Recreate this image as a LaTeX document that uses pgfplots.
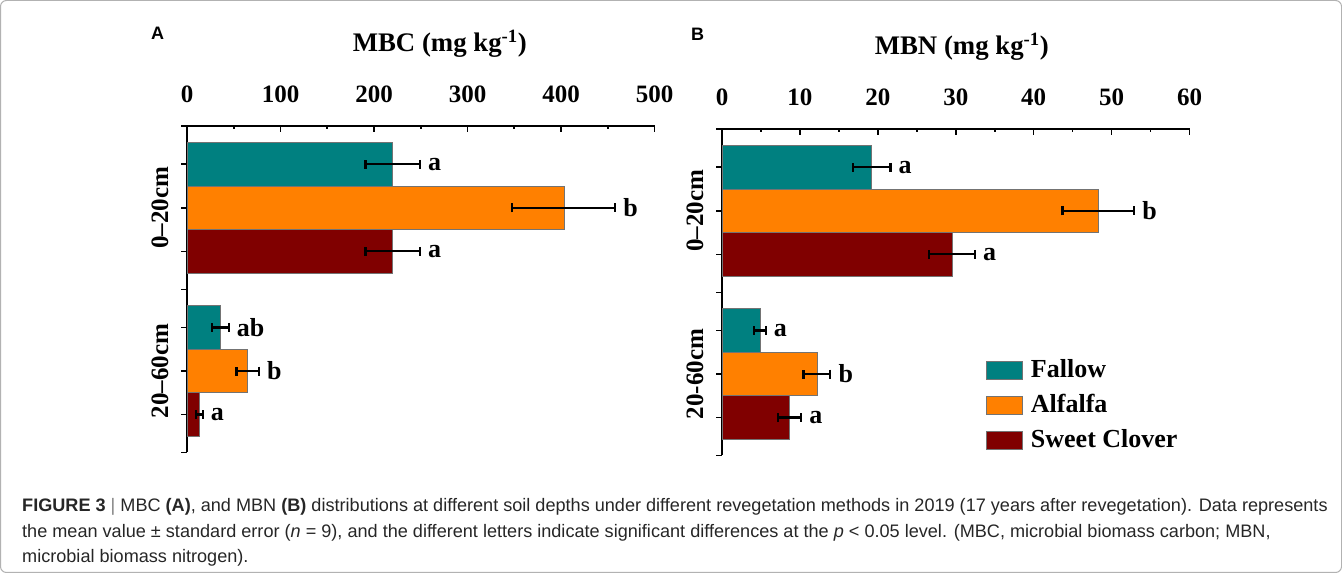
\documentclass[border=0pt]{standalone}
\usepackage{fontspec}
\setmainfont{Liberation Serif}
\newfontfamily\capfont{Liberation Sans}
\usepackage{graphicx}
\usepackage{pgfplots}
\pgfplotsset{compat=1.18}
\usepackage{pgfplotstable}

\definecolor{fallow}{HTML}{008080}
\definecolor{alfalfa}{HTML}{FF8000}
\definecolor{sclover}{HTML}{800000}

% y positions (axis units = bar heights), value, error, letter
\pgfplotstableread{
y v e lab
0.886 220 29 a
4.633 35.5 9 ab
}\AFallow
\pgfplotstableread{
y v e lab
1.886 403 55 b
5.633 65 12 b
}\AAlfalfa
\pgfplotstableread{
y v e lab
2.886 220 29 a
6.633 13.3 3.5 a
}\AClover
\pgfplotstableread{
y v e lab
0.886 19.2 2.43 a
4.633 4.87 0.73 a
}\BFallow
\pgfplotstableread{
y v e lab
1.886 48.3 4.6 b
5.633 12.18 1.72 b
}\BAlfalfa
\pgfplotstableread{
y v e lab
2.886 29.5 2.95 a
6.633 8.68 1.48 a
}\BClover

\pgfplotsset{
  every error bar/.append style={line width=2.2pt, draw=black},
  panel/.style={
    scale only axis, width=467.5pt, height=326.6pt,
    anchor=south west,
    xmin=0, ymin=0, ymax=7.5, y dir=reverse,
    axis x line*=top, axis y line*=left,
    axis line style={line width=1.6pt},
    xtick align=inside, ytick align=outside,
    major tick length=6pt, minor tick length=3.5pt,
    every tick/.style={black, line width=1.6pt},
    minor x tick num=1,
    ytick={0,0.886,1.886,2.886,3.76,4.633,5.633,6.633,7.5},
    yticklabels={},
    extra y ticks={1.886,5.633},
    extra y tick style={yticklabel style={rotate=90, anchor=south, yshift=9pt}},
    ticklabel style={font=\bfseries\fontsize{25}{25}\selectfont},
    /pgf/number format/assume math mode=true,
    xticklabel style={yshift=19pt},
    title style={font=\bfseries\fontsize{26.8}{26.8}\selectfont, anchor=base, at={(0.5,1)}, yshift=68pt},
    clip=false,
  },
  bars/.style={xbar, bar width=1, bar shift=0pt, draw=black!55, line width=0.6pt, fill=#1},
  errs/.style={forget plot, sharp plot, draw=none, no markers, line width=2.2pt,
    error bars/.cd, x dir=both, x explicit, error mark=|,
    error bar style={line width=2.2pt, draw=black},
    error mark options={line width=2.2pt, mark size=4.5pt, draw=black}},
  letters/.style={forget plot, draw=none, mark=none, nodes near coords,
    point meta=explicit symbolic,
    nodes near coords style={anchor=west, xshift=8pt, inner sep=0pt,
      font=\bfseries\fontsize{26}{26}\selectfont}},
}

\begin{document}
\begin{tikzpicture}
\draw[black!30, line width=1pt, rounded corners=6pt] (0.5pt,0.5pt) rectangle (1341.5pt,572.5pt);

\node[anchor=base west, inner sep=0pt, font=\capfont\bfseries\fontsize{18}{18}\selectfont] at (151pt,533pt) {A};
\node[anchor=base west, inner sep=0pt, font=\capfont\bfseries\fontsize{18}{18}\selectfont] at (691pt,532pt) {B};

\begin{axis}[panel, at={(187pt,120.7pt)}, xmax=500, xtick={0,100,...,500},
  title={MBC (mg kg\textsuperscript{-1})}, title style={xshift=19pt},
  extra y tick labels={0–20cm,20–60cm}]
\addplot[bars=fallow] table[x=v, y=y]{\AFallow};
\addplot[bars=alfalfa] table[x=v, y=y]{\AAlfalfa};
\addplot[bars=sclover] table[x=v, y=y]{\AClover};
\addplot[errs] table[x=v, y=y, x error=e]{\AFallow};
\addplot[errs] table[x=v, y=y, x error=e]{\AAlfalfa};
\addplot[errs] table[x=v, y=y, x error=e]{\AClover};
\addplot[letters] table[x expr=\thisrow{v}+\thisrow{e}, y=y, meta=lab]{\AFallow};
\addplot[letters] table[x expr=\thisrow{v}+\thisrow{e}, y=y, meta=lab]{\AAlfalfa};
\addplot[letters] table[x expr=\thisrow{v}+\thisrow{e}, y=y, meta=lab]{\AClover};
\end{axis}

\begin{axis}[panel, at={(722pt,117.7pt)}, xmax=60, xtick={0,10,...,60},
  title={MBN (mg kg\textsuperscript{-1})}, title style={xshift=6pt},
  extra y tick labels={0–20cm,20-60cm},
  legend style={at={(0.565,0.2935)}, anchor=north west, draw=none, fill=none,
    inner sep=0pt, row sep=14.5pt,
    nodes={inner sep=0pt, text height=18pt, text depth=0pt},
    font=\bfseries\fontsize{26}{26}\selectfont},
  legend cell align=left,
  legend image code/.code={\draw[#1, draw=black!55, line width=0.6pt] (0pt,-11pt) rectangle (36pt,7pt);}]
\addplot[bars=fallow] table[x=v, y=y]{\BFallow};
\addlegendentry{\hspace{8pt}Fallow}
\addplot[bars=alfalfa] table[x=v, y=y]{\BAlfalfa};
\addlegendentry{\hspace{8pt}Alfalfa}
\addplot[bars=sclover] table[x=v, y=y]{\BClover};
\addlegendentry{\hspace{8pt}Sweet Clover}
\addplot[errs] table[x=v, y=y, x error=e]{\BFallow};
\addplot[errs] table[x=v, y=y, x error=e]{\BAlfalfa};
\addplot[errs] table[x=v, y=y, x error=e]{\BClover};
\addplot[letters] table[x expr=\thisrow{v}+\thisrow{e}, y=y, meta=lab]{\BFallow};
\addplot[letters] table[x expr=\thisrow{v}+\thisrow{e}, y=y, meta=lab]{\BAlfalfa};
\addplot[letters] table[x expr=\thisrow{v}+\thisrow{e}, y=y, meta=lab]{\BClover};
\end{axis}

\begin{scope}[every node/.style={anchor=base west, inner sep=0pt, text=black!85, font=\capfont\fontsize{18.1}{18.1}\selectfont}]
\node at (22pt,61pt) {\textbf{FIGURE 3} {\color{black!50}|} MBC \textbf{(A)}, and MBN \textbf{(B)} distributions at different soil depths under different revegetation methods in 2019 (17 years after revegetation). Data represents};
\node at (22pt,35pt) {the mean value ± standard error (\textit{n} = 9), and the different letters indicate significant differences at the \textit{p} < 0.05 level. (MBC, microbial biomass carbon; MBN,};
\node at (22pt,10pt) {microbial biomass nitrogen).};
\end{scope}
\end{tikzpicture}
\end{document}
